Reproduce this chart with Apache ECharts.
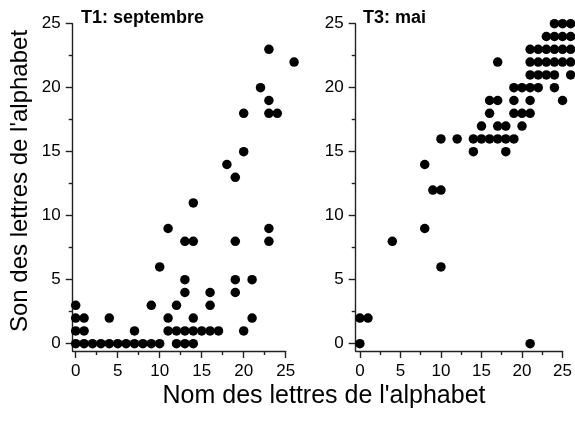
<!DOCTYPE html>
<html><head><meta charset="utf-8">
<script src="https://cdn.jsdelivr.net/npm/echarts@6/dist/echarts.min.js"></script>
<style>html,body{margin:0;padding:0;background:#fff}#c{width:575px;height:421px}</style>
</head><body><div id="c"></div>
<script>
// T1: septembre
const t1X = [0,1,2,3,4,5,6,7,8,9,10,12,13,14,
             0,1,7,11,12,13,14,15,16,17,20,
             0,1,4,11,14,21,
             0,9,12,16,
             13,16,19,
             13,19,21,
             10,
             13,14,19,23,
             11,23,
             14,
             19,18,20,
             20,23,24,23,22,23,26];
const t1Y = [0,0,0,0,0,0,0,0,0,0,0,0,0,0,
             1,1,1,1,1,1,1,1,1,1,1,
             2,2,2,2,2,2,
             3,3,3,3,
             4,4,4,
             5,5,5,
             6,
             8,8,8,8,
             9,9,
             11,
             13,14,15,
             18,18,18,19,20,23,22];
// T3: mai
const t3X = [0,21,0,1,4,10,8,9,10,8,
             14,18,
             10,12,14,15,16,17,18,19,
             15,17,18,20,
             16,19,20,21,
             16,17,19,21,25,
             19,20,21,22,24,
             21,22,23,24,26,
             17,21,22,23,24,25,26,
             21,22,23,24,25,26,
             23,24,25,26,
             24,25,26];
const t3Y = [0,0,2,2,8,6,9,12,12,14,
             15,15,
             16,16,16,16,16,16,16,16,
             17,17,17,17,
             18,18,18,18,
             19,19,19,19,19,
             20,20,20,20,20,
             21,21,21,21,21,
             22,22,22,22,22,22,22,
             23,23,23,23,23,23,
             24,24,24,24,
             25,25,25];
const majorTicks = [0,5,10,15,20,25];
const minorTicks = [2.5,7.5,12.5,17.5,22.5];
const panelTitles = ['T1: septembre','T3: mai'];
const xName = "Nom des lettres de l'alphabet";
const yName = "Son des lettres de l'alphabet";

const FONT = 'Liberation Sans, Arial, sans-serif';
const AX = '#222';

function axis(grid, min, max, ticks, len, major, pos) {
  return {
    type: 'value', gridIndex: grid, min: min, max: max, position: pos,
    axisLine: {show: major, onZero: false, lineStyle: {color: AX, width: 1.4}},
    axisTick: {show: true, inside: false, length: len, customValues: ticks,
               lineStyle: {color: AX, width: 1.4}},
    axisLabel: {show: major, customValues: ticks, margin: 12, color: '#000',
                fontSize: 17, fontFamily: FONT},
    splitLine: {show: false}
  };
}

const yMin = -0.57, yMax = 25;
const chart = echarts.init(document.getElementById('c'), null, {renderer: 'canvas'});
chart.setOption({
  animation: false,
  backgroundColor: '#fff',
  grid: [
    {left: 72.7, top: 23.7, width: 213, height: 327.3},
    {left: 355.7, top: 23.7, width: 212.6, height: 327.3}
  ],
  xAxis: [
    axis(0, -0.357, 25, majorTicks, 7, true, 'bottom'),
    axis(0, -0.357, 25, minorTicks, 4, false, 'bottom'),
    axis(1, -0.516, 25, majorTicks, 7, true, 'bottom'),
    axis(1, -0.516, 25, minorTicks, 4, false, 'bottom')
  ],
  yAxis: [
    axis(0, yMin, yMax, majorTicks, 7, true, 'left'),
    axis(0, yMin, yMax, minorTicks, 4, false, 'left'),
    axis(1, yMin, yMax, majorTicks, 7, true, 'left'),
    axis(1, yMin, yMax, minorTicks, 4, false, 'left')
  ],
  series: [
    {type: 'scatter', xAxisIndex: 0, yAxisIndex: 0, clip: false, symbolSize: 9.5,
     itemStyle: {color: '#000', opacity: 1}, data: t1X.map((x, i) => [x, t1Y[i]])},
    {type: 'scatter', xAxisIndex: 2, yAxisIndex: 2, clip: false, symbolSize: 9.5,
     itemStyle: {color: '#000', opacity: 1}, data: t3X.map((x, i) => [x, t3Y[i]])}
  ],
  graphic: [
    {type: 'text', x: 81, y: 18, style: {text: panelTitles[0], fill: '#000',
      font: 'bold 18px ' + FONT, textVerticalAlign: 'middle'}},
    {type: 'text', x: 363, y: 18, style: {text: panelTitles[1], fill: '#000',
      font: 'bold 18px ' + FONT, textVerticalAlign: 'middle'}},
    {type: 'text', x: 324, y: 396, style: {text: xName, fill: '#000',
      font: '25px ' + FONT, textAlign: 'center', textVerticalAlign: 'middle'}},
    {type: 'text', x: 20, y: 181, rotation: Math.PI / 2, style: {text: yName, fill: '#000',
      font: '24px ' + FONT, textAlign: 'center', textVerticalAlign: 'middle'}}
  ]
});
</script></body></html>
